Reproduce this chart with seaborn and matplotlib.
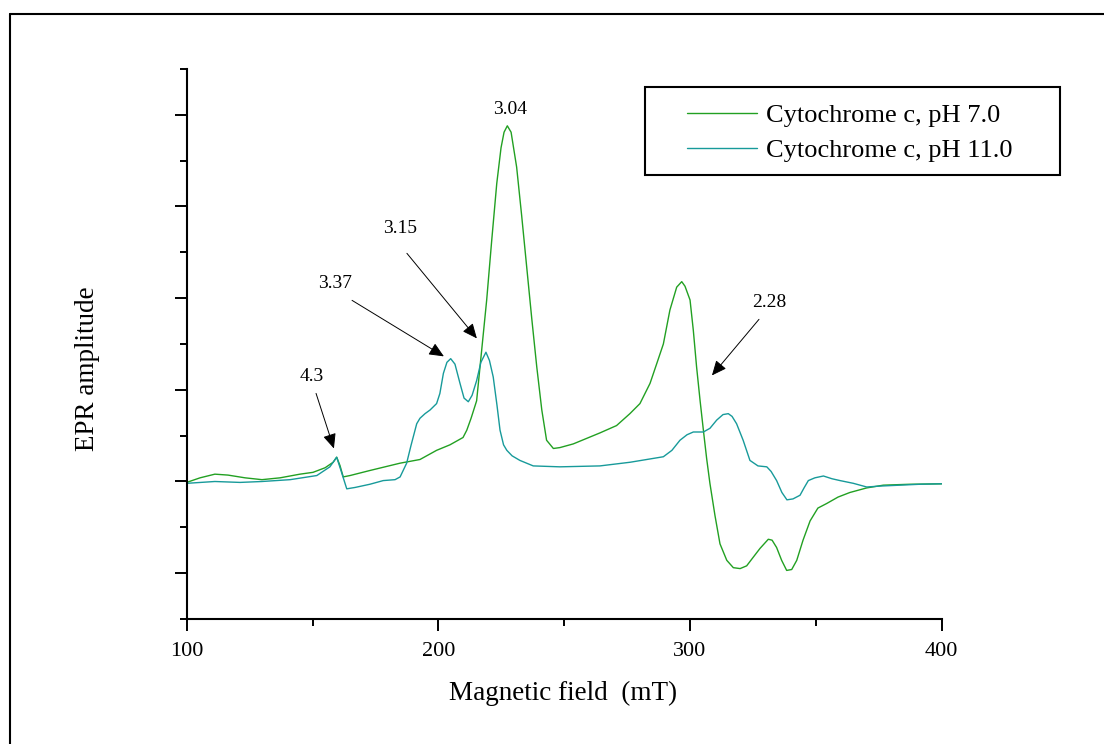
import matplotlib
matplotlib.use("Agg")
import matplotlib.pyplot as plt
from matplotlib.lines import Line2D
from matplotlib.patches import Rectangle
from matplotlib.ticker import MultipleLocator, NullFormatter
import numpy as np
import pandas as pd
import seaborn as sns

# EPR spectra of cytochrome c (field in mT, amplitude in arbitrary units)
field_ph7 = [100.0, 105.3, 111.2, 116.4, 123.2, 129.9, 137.1, 145.0, 150.2, 155.0,
             158.2, 159.6, 160.9, 162.2, 164.9, 172.8, 184.8, 192.7, 199.3, 204.6,
             209.8, 211.3, 213.0, 215.2, 217.2, 219.2, 221.2, 223.2, 224.9, 226.1,
             227.4, 228.9, 231.1, 233.1, 235.1, 237.1, 239.1, 241.1, 243.0, 245.7,
             248.3, 253.6, 264.2, 270.8, 276.1, 280.1, 284.1, 286.7, 289.4, 292.0,
             294.7, 296.7, 298.0, 300.0, 301.3, 302.6, 304.0, 305.3,
             306.6, 307.9, 309.9, 311.9, 314.6, 317.2, 319.9, 322.5, 325.0, 327.8,
             331.1, 332.6, 334.4, 336.4, 338.4, 340.4, 342.4, 344.9, 347.7, 350.8,
             354.3, 358.8, 363.5, 370.2, 376.8, 387.4, 400.0]
amp_ph7 = [-0.01, 0.04, 0.08, 0.07, 0.04, 0.02, 0.04, 0.08, 0.10, 0.15,
           0.21, 0.265, 0.175, 0.05, 0.065, 0.12, 0.20, 0.24, 0.34, 0.40,
           0.48, 0.56, 0.69, 0.88, 1.43, 1.98, 2.63, 3.25, 3.64, 3.81,
           3.88, 3.81, 3.43, 2.90, 2.34, 1.78, 1.25, 0.78, 0.45, 0.36,
           0.37, 0.41, 0.53, 0.61, 0.74, 0.85, 1.07, 1.28, 1.50, 1.87,
           2.12, 2.18, 2.13, 1.98, 1.65, 1.25, 0.88, 0.56,
           0.25, -0.02, -0.37, -0.68, -0.86, -0.94, -0.95, -0.92, -0.83, -0.73,
           -0.63, -0.64, -0.72, -0.86, -0.97, -0.96, -0.86, -0.64, -0.43, -0.29,
           -0.24, -0.17, -0.12, -0.07, -0.04, -0.03, -0.025]

field_ph11 = [100.0, 111.2, 121.2, 129.9, 141.1, 151.7, 156.9, 159.6, 161.3, 163.6,
              166.9, 172.8, 178.1, 182.8, 184.8, 187.4, 189.1, 191.4, 192.7, 194.7,
              196.7, 199.3, 200.6, 202.0, 203.4, 204.9, 206.6, 208.6, 210.2, 211.9,
              213.4, 215.2, 216.9, 218.9, 220.3, 221.8, 223.3, 224.5, 225.9, 227.2,
              229.3, 232.4, 237.7, 248.3, 264.2, 276.2, 289.4, 292.8, 296.0, 298.8,
              301.3, 305.3, 307.9, 310.6, 313.1, 315.2, 316.7, 318.5, 321.1, 323.8,
              327.0, 330.5, 332.2, 334.4, 336.5, 338.5, 340.9, 343.7, 345.3, 347.0,
              349.6, 353.0, 356.4, 359.6, 364.9, 370.2, 375.5, 383.4, 391.4, 400.0]
amp_ph11 = [-0.02, 0.0, -0.01, 0.0, 0.02, 0.065, 0.16, 0.265, 0.12, -0.08,
            -0.065, -0.03, 0.01, 0.02, 0.05, 0.20, 0.39, 0.63, 0.69, 0.74,
            0.78, 0.85, 0.96, 1.18, 1.30, 1.34, 1.28, 1.07, 0.91, 0.87,
            0.94, 1.10, 1.30, 1.41, 1.32, 1.14, 0.83, 0.56, 0.40, 0.34,
            0.28, 0.23, 0.17, 0.16, 0.17, 0.21, 0.27, 0.34, 0.45, 0.51,
            0.54, 0.54, 0.58, 0.67, 0.73, 0.74, 0.71, 0.63, 0.45, 0.23,
            0.17, 0.16, 0.11, 0.01, -0.12, -0.20, -0.19, -0.15, -0.07, 0.01,
            0.04, 0.06, 0.03, 0.01, -0.02, -0.06, -0.05, -0.04, -0.03, -0.025]

series_labels = ["Cytochrome c, pH 7.0", "Cytochrome c, pH 11.0"]
series_colors = ["#22a022", "#179a9a"]

# g-value labels: (text, label position, arrow tail, arrow tip)
g_labels = ["3.04", "3.15", "3.37", "4.3", "2.28"]
g_label_pos = [(228.5, 4.06), (184.8, 2.76), (158.9, 2.16), (149.8, 1.146), (331.4, 1.954)]
g_arrow_tail = [None, (187.5, 2.489), (165.7, 1.976), (151.4, 0.961), (327.4, 1.769)]
g_arrow_tip = [None, (215.3, 1.561), (202.2, 1.365), (158.5, 0.360), (308.7, 1.157)]

x_ticks = [100, 200, 300, 400]

sns.set_theme(style="ticks")
plt.rcParams["font.family"] = ["Liberation Serif", "DejaVu Serif"]
plt.rcParams["text.color"] = "black"

fig = plt.figure(figsize=(11.04, 7.44), dpi=100)
fig.patch.set_facecolor("white")
ax = fig.add_axes([0.1691, 0.1680, 0.6839, 0.7393])
ax.set_facecolor("white")

df7 = pd.DataFrame({"field": field_ph7, "amp": amp_ph7})
df11 = pd.DataFrame({"field": field_ph11, "amp": amp_ph11})
sns.lineplot(data=df7, x="field", y="amp", ax=ax, color=series_colors[0],
             lw=1.0, label=series_labels[0], sort=False, estimator=None)
sns.lineplot(data=df11, x="field", y="amp", ax=ax, color=series_colors[1],
             lw=1.0, label=series_labels[1], sort=False, estimator=None)

ax.set_xlim(100, 400)
ax.set_ylim(-1.5, 4.5)
ax.set_xticks(x_ticks)
ax.set_xticklabels([str(t) for t in x_ticks])
ax.xaxis.set_minor_locator(MultipleLocator(50))
ax.yaxis.set_major_locator(MultipleLocator(1))
ax.yaxis.set_minor_locator(MultipleLocator(1, offset=0.5))
ax.yaxis.set_major_formatter(NullFormatter())

for side in ("top", "right"):
    ax.spines[side].set_visible(False)
for side in ("left", "bottom"):
    ax.spines[side].set_linewidth(1.5)
    ax.spines[side].set_color("black")

ax.tick_params(which="major", direction="out", length=8.5, width=1.4,
               color="black", labelsize=16, labelcolor="black", pad=8)
ax.tick_params(which="minor", direction="out", length=5, width=1.4, color="black")

ax.set_xlabel("Magnetic field  (mT)", fontsize=19.5, color="black")
ax.xaxis.set_label_coords(0.498, -0.135)
ax.xaxis.label.set_va("center")
ax.set_ylabel("EPR amplitude", fontsize=19.5, color="black")
ax.yaxis.set_label_coords(-0.131, 0.456)
ax.yaxis.label.set_va("center")

# g-value annotations
for txt, pos, tail, tip in zip(g_labels, g_label_pos, g_arrow_tail, g_arrow_tip):
    ax.text(pos[0], pos[1], txt, ha="center", va="center", fontsize=14, color="black")
    if tail is not None:
        ax.annotate("", xy=tip, xytext=tail,
                    arrowprops=dict(arrowstyle="-|>,head_length=0.45,head_width=0.2",
                                    mutation_scale=20, color="black", lw=0.7,
                                    shrinkA=0, shrinkB=0))

# legend with a square black frame
leg = ax.legend(loc="center left", bbox_to_anchor=(687 / 1104, 1 - 133 / 744),
                bbox_transform=fig.transFigure, frameon=False, fontsize=19,
                handlelength=2.65, handletextpad=0.34, borderpad=0,
                labelspacing=0.42, borderaxespad=0)
for line in leg.get_lines():
    line.set_linewidth(1.0)
for t in leg.get_texts():
    t.set_color("black")
fig.add_artist(Rectangle((645 / 1104, 1 - 175 / 744), 415 / 1104, 88 / 744,
                         transform=fig.transFigure, fill=False,
                         edgecolor="black", lw=1.5))

# outer frame of the figure panel
fx, fy = 10 / 1104, 1 - 13.7 / 744
fig.add_artist(Line2D([fx, fx], [0, fy], transform=fig.transFigure, color="black", lw=1.5))
fig.add_artist(Line2D([fx, 1], [fy, fy], transform=fig.transFigure, color="black", lw=1.5))

fig.savefig("out.png", dpi=100, facecolor="white")
